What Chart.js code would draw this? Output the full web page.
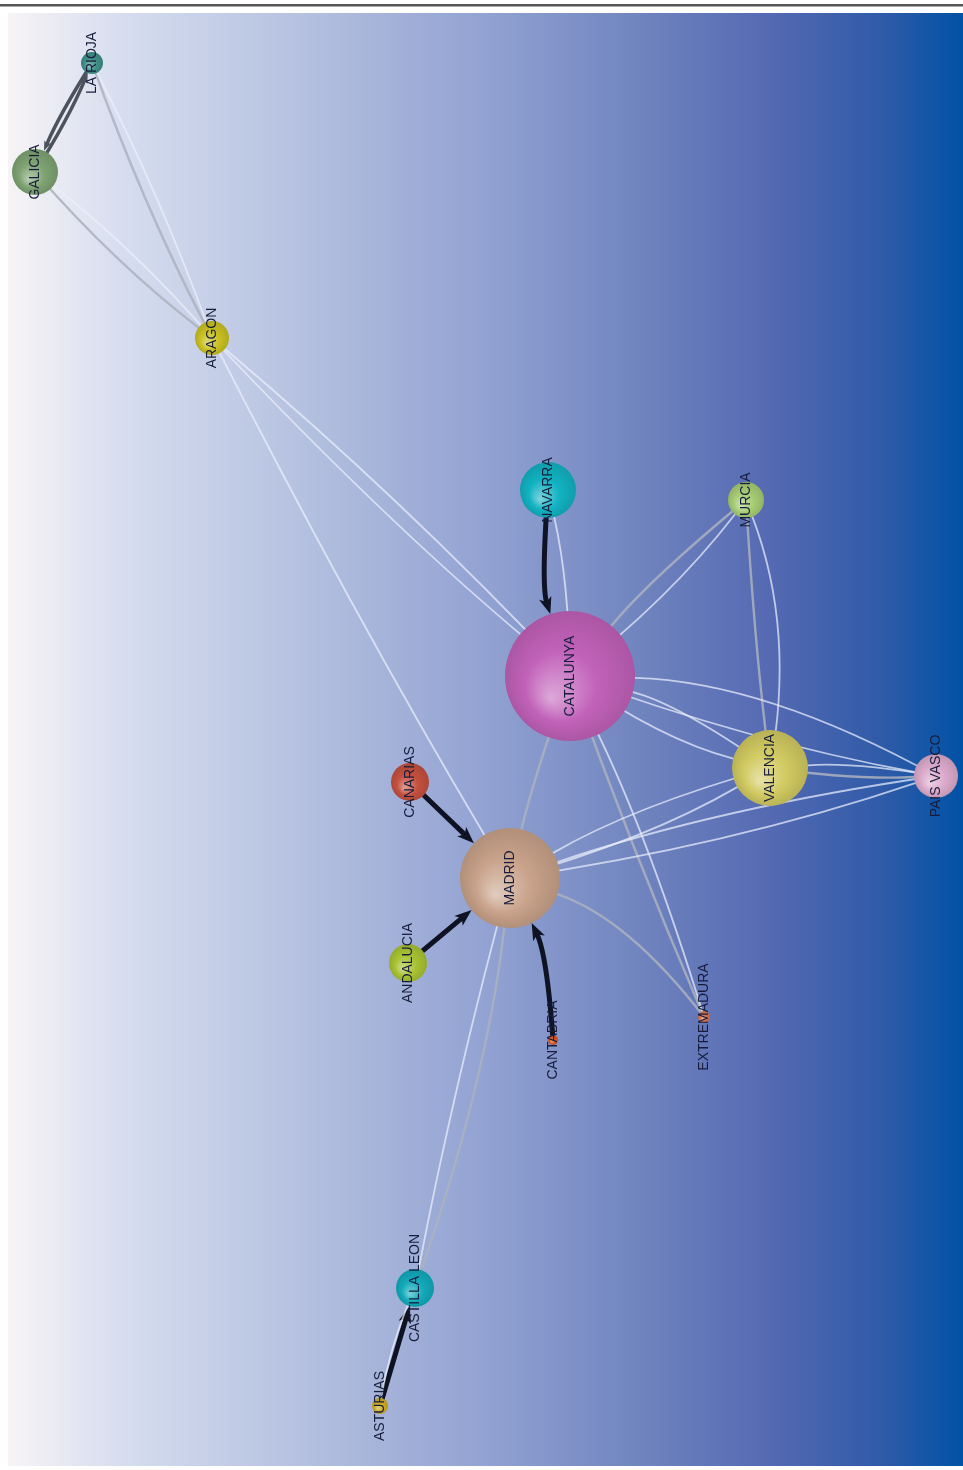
<!DOCTYPE html>
<html>
<head>
<meta charset="utf-8">
<script src="https://cdn.jsdelivr.net/npm/chart.js@4/dist/chart.umd.min.js"></script>
<style>
html, body { margin: 0; padding: 0; background: #fff; }
canvas { display: block; }
</style>
</head>
<body>
<canvas id="net" width="963" height="1470"></canvas>
<script>
// nodes of the graph (layout coordinates + size)
var nodeNames = ['LA RIOJA', 'GALICIA', 'ARAGON', 'NAVARRA', 'MURCIA', 'CATALUNYA', 'CANARIAS',
                 'VALENCIA', 'PAIS VASCO', 'MADRID', 'ANDALUCIA', 'CANTABRIA', 'EXTREMADURA',
                 'CASTILLA LEON', 'ASTURIAS'];
var nodeX = [92, 35, 212, 548, 746, 570, 410, 770, 936, 510, 408, 553, 704, 415, 380];
var nodeY = [63, 172, 338, 490, 500, 676, 782, 768, 776, 878, 963, 1040, 1017, 1288, 1406];
var nodeSize = [11, 23, 17, 28, 18, 65, 19, 38, 22, 50, 19, 5, 6, 19, 8];

// links: [from, to, weight]
var edges = [
    ['NAVARRA', 'CATALUNYA', 5],
    ['CANARIAS', 'MADRID', 5],
    ['ANDALUCIA', 'MADRID', 5],
    ['CANTABRIA', 'MADRID', 5],
    ['ASTURIAS', 'CASTILLA LEON', 5],
    ['GALICIA', 'LA RIOJA', 4],
    ['LA RIOJA', 'GALICIA', 4],
    ['GALICIA', 'ARAGON', 2],
    ['ARAGON', 'GALICIA', 1],
    ['LA RIOJA', 'ARAGON', 2],
    ['ARAGON', 'LA RIOJA', 1],
    ['ARAGON', 'CATALUNYA', 1],
    ['CATALUNYA', 'ARAGON', 1],
    ['ARAGON', 'MADRID', 1],
    ['CATALUNYA', 'NAVARRA', 1],
    ['MURCIA', 'CATALUNYA', 2],
    ['CATALUNYA', 'MURCIA', 1],
    ['MURCIA', 'VALENCIA', 2],
    ['VALENCIA', 'MURCIA', 1],
    ['CATALUNYA', 'VALENCIA', 1],
    ['VALENCIA', 'CATALUNYA', 1],
    ['PAIS VASCO', 'CATALUNYA', 1],
    ['CATALUNYA', 'PAIS VASCO', 1],
    ['CATALUNYA', 'MADRID', 2],
    ['CATALUNYA', 'EXTREMADURA', 2],
    ['EXTREMADURA', 'CATALUNYA', 1],
    ['MADRID', 'VALENCIA', 1],
    ['VALENCIA', 'MADRID', 1],
    ['MADRID', 'PAIS VASCO', 1],
    ['PAIS VASCO', 'MADRID', 1],
    ['EXTREMADURA', 'MADRID', 2],
    ['VALENCIA', 'PAIS VASCO', 2],
    ['PAIS VASCO', 'VALENCIA', 1],
    ['CASTILLA LEON', 'MADRID', 2],
    ['MADRID', 'CASTILLA LEON', 1],
    ['CASTILLA LEON', 'ASTURIAS', 1]
];

// drawing style
var nodeColors = ['#3f8f88', '#7ea372', '#c9c022', '#12b2c2', '#a6cc74', '#c262ba', '#c4503e',
                  '#d2ca62', '#dcaacb', '#c9a28a', '#a8c232', '#d8561e', '#d4724e',
                  '#12aabb', '#cbaa22'];
var edgeBend = [18, 0, 0, 16, 0, 5, 5, 12, 12, 10, 10, 14, 14, 10, 10,
                12, 16, 4, 38, 20, 20, 46, 16, 6, 6, 14, 18, 18, 20, 20,
                36, 8, 10, 24, 8, 8];
var edgeStyles = {
    1: { color: 'rgba(236,240,252,0.72)', width: 1.8, head: 0 },
    2: { color: 'rgba(172,178,190,0.85)', width: 2.4, head: 0 },
    4: { color: '#4c535c', width: 3.5, head: 10 },
    5: { color: '#0e1222', width: 5, head: 17 }
};

function indexOf(name) {
    return nodeNames.indexOf(name);
}

function toPixel(chart, i) {
    return {
        x: chart.scales.x.getPixelForValue(nodeX[i]),
        y: chart.scales.y.getPixelForValue(nodeY[i])
    };
}

function shade(hex, amt) {
    var r = parseInt(hex.substr(1, 2), 16), g = parseInt(hex.substr(3, 2), 16), b = parseInt(hex.substr(5, 2), 16);
    if (amt > 0) {
        r = r + (255 - r) * amt; g = g + (255 - g) * amt; b = b + (255 - b) * amt;
    } else {
        r = r * (1 + amt); g = g * (1 + amt); b = b * (1 + amt);
    }
    return 'rgb(' + Math.round(r) + ',' + Math.round(g) + ',' + Math.round(b) + ')';
}

var backdrop = {
    id: 'backdrop',
    beforeDraw: function(chart) {
        var c = chart.ctx, w = chart.width, h = chart.height;
        c.save();
        c.fillStyle = '#fff';
        c.fillRect(0, 0, w, h);
        c.fillStyle = '#585858';
        c.fillRect(0, 4, w, 2);
        c.fillStyle = '#a8a8a8';
        c.fillRect(0, 6, w, 1);
        var g = c.createLinearGradient(8, 0, w, 0);
        g.addColorStop(0, '#f7f4f6');
        g.addColorStop(0.12, '#d6ddef');
        g.addColorStop(0.3, '#b6c2e0');
        g.addColorStop(0.5, '#92a2d2');
        g.addColorStop(0.65, '#7286c0');
        g.addColorStop(0.8, '#5469b2');
        g.addColorStop(0.92, '#2d5aa8');
        g.addColorStop(1, '#0052a6');
        c.fillStyle = g;
        c.fillRect(8, 13, w - 8, h - 17);
        c.restore();
    }
};

var links = {
    id: 'links',
    beforeDatasetsDraw: function(chart) {
        var c = chart.ctx;
        c.save();
        c.lineCap = 'round';
        for (var k = 0; k < edges.length; k++) {
            var s = indexOf(edges[k][0]), t = indexOf(edges[k][1]);
            var st = edgeStyles[edges[k][2]];
            var a = toPixel(chart, s), b = toPixel(chart, t);
            var dx = b.x - a.x, dy = b.y - a.y, len = Math.hypot(dx, dy);
            var nx = -dy / len, ny = dx / len;
            var cx = (a.x + b.x) / 2 + nx * edgeBend[k], cy = (a.y + b.y) / 2 + ny * edgeBend[k];
            var ex = cx - b.x, ey = cy - b.y, el = Math.hypot(ex, ey);
            var rt = nodeSize[t];
            var tipX = b.x + ex / el * rt, tipY = b.y + ey / el * rt;
            var ux = -ex / el, uy = -ey / el;
            var endX = tipX, endY = tipY;
            if (st.head) {
                endX = tipX - ux * st.head * 0.7;
                endY = tipY - uy * st.head * 0.7;
            }
            c.strokeStyle = st.color;
            c.lineWidth = st.width;
            c.beginPath();
            c.moveTo(a.x, a.y);
            c.quadraticCurveTo(cx, cy, endX, endY);
            c.stroke();
            if (st.head) {
                var hw = st.head * 0.38;
                c.fillStyle = st.color;
                c.beginPath();
                c.moveTo(tipX, tipY);
                c.lineTo(tipX - ux * st.head - uy * hw, tipY - uy * st.head + ux * hw);
                c.lineTo(tipX - ux * st.head * 0.75, tipY - uy * st.head * 0.75);
                c.lineTo(tipX - ux * st.head + uy * hw, tipY - uy * st.head - ux * hw);
                c.closePath();
                c.fill();
            }
        }
        c.restore();
    }
};

var labels = {
    id: 'labels',
    afterDatasetsDraw: function(chart) {
        var c = chart.ctx;
        c.save();
        c.font = '14px "Liberation Sans", Arial, sans-serif';
        c.fillStyle = '#161c3a';
        c.textAlign = 'center';
        c.textBaseline = 'middle';
        for (var i = 0; i < nodeNames.length; i++) {
            var p = toPixel(chart, i);
            c.save();
            c.translate(p.x, p.y);
            c.rotate(-Math.PI / 2);
            c.fillText(nodeNames[i], 0, 0);
            c.restore();
        }
        c.restore();
    }
};

function sphereFill(ctx) {
    var chart = ctx.chart;
    var i = ctx.dataIndex;
    if (ctx.type !== 'data' || !chart.chartArea) return nodeColors[i] || '#888';
    var p = toPixel(chart, i), r = nodeSize[i];
    var g = chart.ctx.createRadialGradient(p.x - r * 0.3, p.y + r * 0.35, 0, p.x, p.y, r);
    g.addColorStop(0, shade(nodeColors[i], 0.45));
    g.addColorStop(0.55, nodeColors[i]);
    g.addColorStop(1, shade(nodeColors[i], -0.12));
    return g;
}

new Chart(document.getElementById('net').getContext('2d'), {
    type: 'bubble',
    data: {
        datasets: [{
            data: nodeNames.map(function(n, i) {
                return { x: nodeX[i], y: nodeY[i], r: nodeSize[i] };
            }),
            backgroundColor: sphereFill,
            borderWidth: 0,
            clip: false
        }]
    },
    options: {
        responsive: false,
        devicePixelRatio: 1,
        animation: false,
        events: [],
        layout: { padding: 0, autoPadding: false },
        scales: {
            x: { type: 'linear', min: 0, max: 963, display: false },
            y: { type: 'linear', min: 0, max: 1470, reverse: true, display: false }
        },
        plugins: {
            legend: { display: false },
            tooltip: { enabled: false }
        }
    },
    plugins: [backdrop, links, labels]
});
</script>
</body>
</html>
